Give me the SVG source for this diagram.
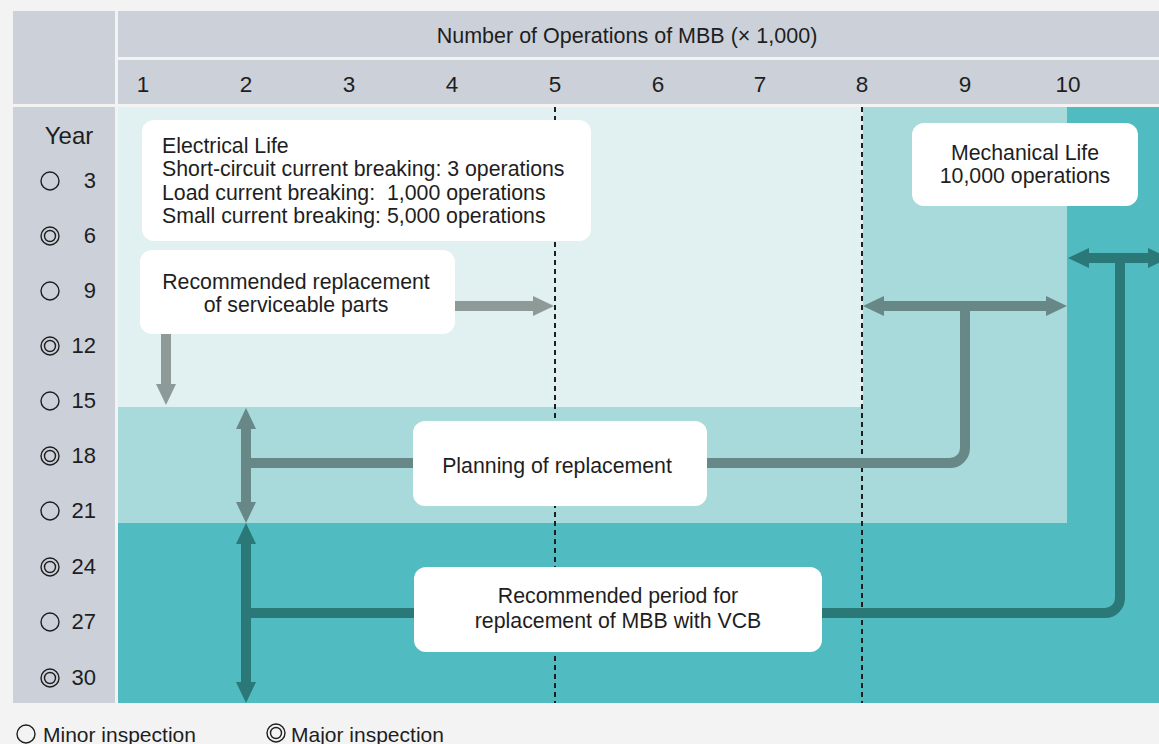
<svg xmlns="http://www.w3.org/2000/svg" width="1159" height="744" viewBox="0 0 1159 744">
<defs>
<style>
text{font-family:"Liberation Sans",Arial,sans-serif;fill:#1e1e1e}
.hdr{fill:#cbd0d9}
.num{font-size:22.5px;text-anchor:middle}
.yr{font-size:22px;text-anchor:end}
.box{fill:#ffffff}
.bt{font-size:21.3px}
.c{text-anchor:middle}
.sym{fill:none;stroke:#1e1e1e;stroke-width:1.4}
.dash{stroke:#1e1e1e;stroke-width:2;stroke-dasharray:5,4}
.ag{stroke:#8e9a98;stroke-width:10;fill:none}
.am{stroke:#678886;stroke-width:10;fill:none}
.ad{stroke:#2a7878;stroke-width:10;fill:none}
</style>
<marker id="hg" markerUnits="userSpaceOnUse" markerWidth="22" markerHeight="22" refX="0" refY="10" orient="auto-start-reverse" viewBox="0 0 22 20"><path d="M0,0 L21,10 L0,20 z" fill="#8e9a98"/></marker>
<marker id="hm" markerUnits="userSpaceOnUse" markerWidth="22" markerHeight="22" refX="0" refY="10" orient="auto-start-reverse" viewBox="0 0 22 20"><path d="M0,0 L21,10 L0,20 z" fill="#678886"/></marker>
<marker id="hd" markerUnits="userSpaceOnUse" markerWidth="22" markerHeight="22" refX="0" refY="10" orient="auto-start-reverse" viewBox="0 0 22 20"><path d="M0,0 L21,10 L0,20 z" fill="#2a7878"/></marker>
</defs>
<rect width="1159" height="744" fill="#f3f3f3"/>

<g id="header">
<rect class="hdr" x="13" y="11" width="102" height="93"/>
<rect class="hdr" x="118" y="11" width="1041" height="46"/>
<rect class="hdr" x="118" y="60" width="1041" height="44"/>
<text x="627" y="43" style="font-size:21.5px" class="c">Number of Operations of MBB (× 1,000)</text>
<text class="num" x="143" y="92">1</text>
<text class="num" x="246" y="92">2</text>
<text class="num" x="349" y="92">3</text>
<text class="num" x="452" y="92">4</text>
<text class="num" x="555" y="92">5</text>
<text class="num" x="658" y="92">6</text>
<text class="num" x="760" y="92">7</text>
<text class="num" x="862" y="92">8</text>
<text class="num" x="965" y="92">9</text>
<text class="num" x="1068" y="92">10</text>
</g>

<g id="years">
<rect class="hdr" x="13" y="107" width="102" height="596"/>
<text x="69" y="144" style="font-size:24px" class="c">Year</text>
<circle class="sym" cx="50" cy="181" r="9"/><text class="yr" x="96" y="188">3</text>
<circle class="sym" cx="50" cy="236" r="9"/><circle class="sym" cx="50" cy="236" r="5.5"/><text class="yr" x="96" y="243">6</text>
<circle class="sym" cx="50" cy="291" r="9"/><text class="yr" x="96" y="298">9</text>
<circle class="sym" cx="50" cy="346" r="9"/><circle class="sym" cx="50" cy="346" r="5.5"/><text class="yr" x="96" y="353">12</text>
<circle class="sym" cx="50" cy="401" r="9"/><text class="yr" x="96" y="408">15</text>
<circle class="sym" cx="50" cy="456" r="9"/><circle class="sym" cx="50" cy="456" r="5.5"/><text class="yr" x="96" y="463">18</text>
<circle class="sym" cx="50" cy="511" r="9"/><text class="yr" x="96" y="518">21</text>
<circle class="sym" cx="50" cy="567" r="9"/><circle class="sym" cx="50" cy="567" r="5.5"/><text class="yr" x="96" y="574">24</text>
<circle class="sym" cx="50" cy="622" r="9"/><text class="yr" x="96" y="629">27</text>
<circle class="sym" cx="50" cy="678" r="9"/><circle class="sym" cx="50" cy="678" r="5.5"/><text class="yr" x="96" y="685">30</text>
</g>

<g id="zones">
<rect x="118" y="107" width="1041" height="596" fill="#50bcc1"/>
<rect x="118" y="107" width="949" height="416" fill="#a8d9db"/>
<rect x="118" y="107" width="745" height="300" fill="#e1f0f0"/>
<line class="dash" x1="555" y1="107" x2="555" y2="703"/>
<line class="dash" x1="862" y1="107" x2="862" y2="703"/>
</g>

<g id="connectors">
<line class="ag" x1="455" y1="306" x2="533" y2="306" marker-end="url(#hg)"/>
<line class="ag" x1="166" y1="334" x2="166" y2="384" marker-end="url(#hg)"/>
<line class="am" x1="246" y1="502" x2="246" y2="429" marker-start="url(#hm)" marker-end="url(#hm)"/>
<line class="ad" x1="246" y1="544" x2="246" y2="682" marker-start="url(#hd)" marker-end="url(#hd)"/>
<line class="am" x1="884" y1="306" x2="1046" y2="306" marker-start="url(#hm)" marker-end="url(#hm)"/>
<line class="ad" x1="1089" y1="258" x2="1148" y2="258" marker-start="url(#hd)" marker-end="url(#hd)"/>
<path class="am" d="M246,463 H950 A15,15 0 0 0 965,448 V306"/>
<path class="ad" d="M246,613 H1105 A15,15 0 0 0 1120,598 V258"/>
</g>

<g id="electrical-life">
<rect class="box" x="142" y="120" width="449" height="121" rx="12"/>
<text class="bt" x="162" y="153">Electrical Life</text>
<text class="bt" x="162" y="176">Short-circuit current breaking: 3 operations</text>
<text class="bt" x="162" y="200" xml:space="preserve" style="white-space:pre">Load current breaking:  1,000 operations</text>
<text class="bt" x="162" y="223">Small current breaking: 5,000 operations</text>
</g>

<g id="serviceable-parts">
<rect class="box" x="140" y="250" width="315" height="84" rx="12"/>
<text class="bt c" x="296" y="289">Recommended replacement</text>
<text class="bt c" x="296" y="312">of serviceable parts</text>
</g>

<g id="mechanical-life">
<rect class="box" x="912" y="123" width="226" height="83" rx="12"/>
<text class="bt c" x="1025" y="160">Mechanical Life</text>
<text class="bt c" x="1025" y="183">10,000 operations</text>
</g>

<g id="planning">
<rect class="box" x="413" y="421" width="294" height="85" rx="12"/>
<text class="bt c" x="557" y="473">Planning of replacement</text>
</g>

<g id="vcb-period">
<rect class="box" x="414" y="567" width="408" height="85" rx="12"/>
<text class="bt c" x="618" y="603">Recommended period for</text>
<text class="bt c" x="618" y="628">replacement of MBB with VCB</text>
</g>

<g id="legend">
<circle class="sym" cx="26" cy="734" r="9"/>
<text x="43" y="742" style="font-size:21px">Minor inspection</text>
<circle class="sym" cx="276" cy="733" r="9"/><circle class="sym" cx="276" cy="733" r="5.5"/>
<text x="291" y="742" style="font-size:21px">Major inspection</text>
</g>
</svg>
